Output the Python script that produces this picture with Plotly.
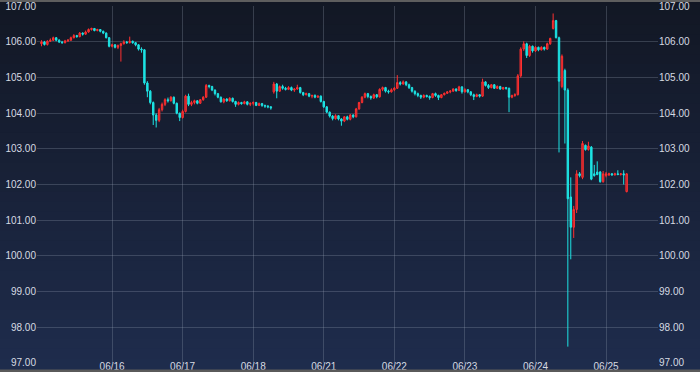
import plotly.graph_objects as go
import pandas as pd

# ---- data: hourly USD/JPY candles (JST), 06/15 00:00 -> 06/25 07:00, weekend removed ----
times = [t.strftime("%Y-%m-%d %H:%M") for t in
         list(pd.date_range("2016-06-15 00:00", "2016-06-18 06:00", freq="h")) +
         list(pd.date_range("2016-06-20 07:00", "2016-06-25 07:00", freq="h"))]

opens = [
    105.95,106.00,105.93,106.02,106.05,106.12,106.05,106.00,105.98,106.03,106.05,106.12,106.18,106.15,106.25,106.22,106.28,106.35,106.38,106.32,106.35,106.30,106.25,106.12,
    105.88,105.92,105.85,105.90,105.95,106.00,105.98,106.02,105.98,105.92,105.80,105.78,104.85,104.62,104.30,103.95,103.80,104.10,104.25,104.38,104.35,104.45,104.28,104.00,
    103.88,104.05,104.48,104.25,104.30,104.35,104.28,104.38,104.45,104.78,104.75,104.65,104.55,104.45,104.32,104.40,104.35,104.42,104.33,104.25,104.30,104.27,104.32,104.25,
    104.28,104.30,104.22,104.27,104.22,104.20,104.18,
    104.60,104.82,104.62,104.75,104.70,104.67,104.72,104.65,104.68,104.72,104.58,104.52,104.55,104.48,104.50,104.45,104.48,
    104.33,104.18,104.03,103.92,103.85,103.93,103.84,103.78,103.90,103.83,103.95,103.90,104.12,104.30,104.45,104.55,104.47,104.43,104.52,104.46,104.67,104.72,104.62,104.60,
    104.66,104.70,104.86,104.82,104.88,104.80,104.72,104.62,104.55,104.50,104.45,104.50,104.47,104.44,104.55,104.50,104.44,104.52,104.56,104.60,104.62,104.68,104.64,104.74,
    104.60,104.66,104.60,104.52,104.47,104.52,104.48,104.88,104.78,104.72,104.80,104.70,104.75,104.68,104.72,104.70,104.45,104.50,104.52,105.05,105.80,105.95,105.62,105.88,
    105.75,105.85,105.78,105.85,105.80,105.95,106.38,106.60,106.12,104.75,105.20,104.65,101.65,100.80,101.30,102.30,102.20,103.10,102.98,103.05,102.30,102.35,102.35,102.08,
    102.25,102.27,102.30,102.27,102.30,102.28,102.30,101.80,
]
highs = [
    106.05,106.03,106.05,106.10,106.15,106.14,106.08,106.03,106.06,106.08,106.15,106.22,106.20,106.28,106.27,106.32,106.38,106.40,106.39,106.37,106.36,106.32,106.27,106.14,
    105.95,105.94,105.93,105.98,106.05,106.03,106.15,106.04,106.00,105.94,105.85,105.80,104.90,104.65,104.33,104.00,104.15,104.30,104.42,104.44,104.48,104.47,104.30,104.02,
    104.10,104.52,104.55,104.35,104.38,104.37,104.40,104.48,104.82,104.80,104.77,104.67,104.57,104.47,104.42,104.42,104.45,104.44,104.35,104.33,104.32,104.35,104.34,104.30,
    104.33,104.32,104.30,104.29,104.24,104.23,104.20,
    104.88,104.85,104.78,104.80,104.74,104.76,104.75,104.70,104.80,104.74,104.60,104.58,104.57,104.52,104.53,104.50,104.50,
    104.35,104.20,104.05,103.95,103.97,103.95,103.86,103.92,103.93,103.98,103.97,104.15,104.32,104.48,104.58,104.57,104.50,104.55,104.54,104.70,104.75,104.74,104.66,104.70,
    104.74,105.07,104.90,104.92,104.90,104.83,104.74,104.64,104.58,104.52,104.53,104.52,104.50,104.57,104.58,104.52,104.54,104.58,104.62,104.65,104.70,104.70,104.77,104.76,
    104.70,104.68,104.62,104.55,104.55,104.54,104.97,104.90,104.82,104.82,104.82,104.78,104.77,104.74,104.74,104.72,104.52,104.56,105.10,105.85,106.02,105.98,105.92,105.90,
    105.88,105.87,105.88,105.87,105.98,106.12,106.80,106.62,106.15,105.65,105.25,104.70,102.20,101.40,102.40,102.35,103.22,103.12,103.20,103.08,102.55,102.65,102.38,102.38,
    102.35,102.33,102.32,102.33,102.40,102.32,102.40,102.32,
]
lows = [
    105.88,105.90,105.90,106.00,106.03,106.02,105.97,105.95,105.96,106.00,106.03,106.10,106.12,106.13,106.18,106.20,106.26,106.32,106.30,106.30,106.27,106.22,106.10,105.85,
    105.85,105.82,105.80,105.45,105.93,105.95,105.96,105.95,105.88,105.76,105.70,104.80,104.45,104.25,103.67,103.60,103.75,104.05,104.20,104.30,104.33,104.25,103.97,103.78,
    103.85,104.02,104.20,104.20,104.25,104.25,104.26,104.35,104.43,104.70,104.62,104.50,104.42,104.30,104.28,104.32,104.33,104.30,104.18,104.22,104.24,104.25,104.22,104.20,
    104.22,104.20,104.20,104.18,104.15,104.14,104.10,
    104.55,104.42,104.60,104.66,104.64,104.65,104.62,104.60,104.66,104.55,104.48,104.50,104.45,104.42,104.42,104.43,104.30,
    104.15,104.00,103.88,103.80,103.82,103.80,103.65,103.75,103.80,103.80,103.86,103.88,104.10,104.28,104.42,104.42,104.38,104.40,104.42,104.44,104.62,104.58,104.55,104.58,
    104.62,104.68,104.78,104.80,104.76,104.68,104.58,104.50,104.45,104.40,104.42,104.44,104.38,104.42,104.46,104.37,104.42,104.50,104.54,104.56,104.60,104.60,104.62,104.55,
    104.58,104.56,104.48,104.37,104.45,104.44,104.46,104.75,104.68,104.70,104.68,104.68,104.66,104.66,104.66,104.03,104.42,104.46,104.50,105.00,105.75,105.55,105.58,105.70,
    105.72,105.74,105.76,105.76,105.78,105.92,106.35,106.10,102.90,104.70,103.15,97.45,99.90,100.50,101.20,102.20,102.15,102.95,102.95,102.12,102.22,102.26,102.05,102.05,
    102.20,102.24,102.25,102.25,102.26,102.25,102.00,101.78,
]
closes = [
    106.00,105.93,106.02,106.05,106.12,106.05,106.00,105.98,106.03,106.05,106.12,106.18,106.15,106.25,106.22,106.28,106.35,106.38,106.32,106.35,106.30,106.25,106.12,105.88,
    105.92,105.85,105.90,105.95,106.00,105.98,106.02,105.98,105.92,105.80,105.78,104.85,104.62,104.30,103.95,103.80,104.10,104.25,104.38,104.35,104.45,104.28,104.00,103.88,
    104.05,104.48,104.25,104.30,104.35,104.28,104.38,104.45,104.78,104.75,104.65,104.55,104.45,104.32,104.40,104.35,104.42,104.33,104.25,104.30,104.27,104.32,104.25,104.28,
    104.30,104.22,104.27,104.22,104.20,104.18,104.15,
    104.82,104.62,104.75,104.70,104.67,104.72,104.65,104.68,104.72,104.58,104.52,104.55,104.48,104.50,104.45,104.48,104.33,
    104.18,104.03,103.92,103.85,103.93,103.84,103.78,103.90,103.83,103.95,103.90,104.12,104.30,104.45,104.55,104.47,104.43,104.52,104.46,104.67,104.72,104.62,104.60,104.66,
    104.70,104.86,104.82,104.88,104.80,104.72,104.62,104.55,104.50,104.45,104.50,104.47,104.44,104.55,104.50,104.44,104.52,104.56,104.60,104.62,104.68,104.64,104.74,104.60,
    104.66,104.60,104.52,104.47,104.52,104.48,104.88,104.78,104.72,104.80,104.70,104.75,104.68,104.72,104.70,104.45,104.50,104.52,105.05,105.80,105.95,105.62,105.88,105.75,
    105.85,105.78,105.85,105.80,105.95,106.10,106.60,106.12,104.90,105.60,104.65,101.60,100.80,101.30,102.30,102.25,103.15,102.98,103.08,102.15,102.25,102.28,102.08,102.30,
    102.30,102.30,102.27,102.30,102.28,102.30,102.27,102.30,
]

tick_dates = ["2016-06-16", "2016-06-17", "2016-06-18", "2016-06-21",
              "2016-06-22", "2016-06-23", "2016-06-24", "2016-06-25"]
tick_labels = ["06/16", "06/17", "06/18", "06/21", "06/22", "06/23", "06/24", "06/25"]
price_ticks = [97, 98, 99, 100, 101, 102, 103, 104, 105, 106, 107]

assert len(times) == len(opens) == len(highs) == len(lows) == len(closes), (
    len(times), len(opens), len(highs), len(lows), len(closes))

fig = go.Figure()
fig.add_trace(go.Candlestick(
    x=times, open=opens, high=highs, low=lows, close=closes,
    increasing=dict(line=dict(color="#ff3030", width=1), fillcolor="rgba(215,35,40,0.8)"),
    decreasing=dict(line=dict(color="#1de3e3", width=1), fillcolor="#1de3e3"),
    whiskerwidth=0, showlegend=False, hoverinfo="skip",
))
# invisible helper so the right-hand price axis is drawn
fig.add_trace(go.Scatter(x=[times[0]], y=[closes[0]], mode="markers",
                         marker=dict(opacity=0), yaxis="y2", showlegend=False,
                         hoverinfo="skip"))

# vertical background gradient
top = (18, 23, 36)
bot = (31, 45, 78)
n = 40
shapes = []
for i in range(n):
    f = i / (n - 1)
    c = tuple(round(top[k] + (bot[k] - top[k]) * f) for k in range(3))
    y1 = 1.03 - i * (1.1 / n)
    y0 = y1 - 1.1 / n - 0.002
    shapes.append(dict(type="rect", xref="paper", yref="paper", x0=-0.1, x1=1.1,
                       y0=y0, y1=y1, fillcolor="rgb(%d,%d,%d)" % c,
                       line=dict(width=0), layer="below"))
# thin grey frame lines at top and bottom of the picture
shapes.append(dict(type="rect", xref="paper", yref="paper", x0=-0.1, x1=1.1,
                   y0=1.0115, y1=1.03, fillcolor="#5e5e5e", line=dict(width=0), layer="above"))
shapes.append(dict(type="rect", xref="paper", yref="paper", x0=-0.1, x1=1.1,
                   y0=-0.03, y1=-0.0185, fillcolor="#5a5a5a", line=dict(width=0), layer="above"))

font = dict(family="Liberation Sans Narrow, Arial Narrow, Liberation Sans, sans-serif",
            size=10, color="#d6dae2")
grid = "rgba(150,160,180,0.28)"

fig.update_layout(
    width=700, height=372,
    margin=dict(l=37, r=42, t=6, b=9, autoexpand=False),
    paper_bgcolor="#161c2c", plot_bgcolor="rgba(0,0,0,0)",
    shapes=shapes, showlegend=False, hovermode=False, dragmode=False,
    xaxis=dict(
        type="date", range=["2016-06-14 22:28", "2016-06-25 17:40"],
        rangebreaks=[dict(bounds=["2016-06-18 07:00", "2016-06-20 07:00"])],
        tickvals=tick_dates, ticktext=tick_labels, tickfont=font,
        showgrid=True, gridcolor=grid, gridwidth=1, zeroline=False,
        showline=False, ticks="", ticklabelstandoff=-4, automargin=False,
        rangeslider=dict(visible=False), fixedrange=True,
    ),
    yaxis=dict(
        range=[96.99, 107.01], tickvals=price_ticks, tickformat=".2f",
        tickfont=font, showgrid=True, gridcolor=grid, gridwidth=1, automargin=False,
        zeroline=False, showline=False, ticks="", side="left", fixedrange=True,
    ),
    yaxis2=dict(
        range=[96.99, 107.01], tickvals=price_ticks, tickformat=".2f", automargin=False,
        tickfont=font, showgrid=False, zeroline=False, showline=False, ticks="",
        side="right", overlaying="y", fixedrange=True,
    ),
)

fig.write_html(
    "out.html",
    config={"displayModeBar": False, "staticPlot": True},
    post_script="document.body.style.margin='0';document.body.style.overflow='hidden';"
                "document.body.style.background='#161c2c';",
)
